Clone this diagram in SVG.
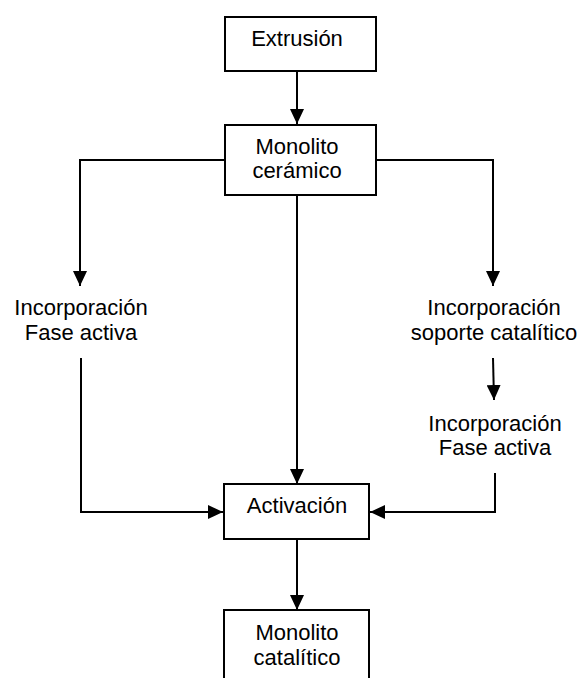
<svg xmlns="http://www.w3.org/2000/svg" width="581" height="678" viewBox="0 0 581 678">
<style>
.box{fill:#fff;stroke:#000;stroke-width:2}
.ln{fill:none;stroke:#000;stroke-width:2}
text{font-family:"Liberation Sans",Arial,sans-serif;font-size:22px;fill:#000;text-anchor:middle}
</style>
<defs>
<marker id="ah" markerWidth="15" markerHeight="14" refX="15" refY="7" orient="auto" markerUnits="userSpaceOnUse">
<path d="M0,0 L15,7 L0,14 Z" fill="#000"/>
</marker>
</defs>
<rect width="581" height="678" fill="#fff"/>
<g id="connectors">
<path class="ln" d="M297,71 L297,124" marker-end="url(#ah)"/>
<path class="ln" d="M225,160 L80,160 L80,286" marker-end="url(#ah)"/>
<path class="ln" d="M376,160 L493,160 L493,286" marker-end="url(#ah)"/>
<path class="ln" d="M297,195 L297,484" marker-end="url(#ah)"/>
<path class="ln" d="M493,358 L494,400" marker-end="url(#ah)"/>
<path class="ln" d="M81,358 L81,512 L223,512" marker-end="url(#ah)"/>
<path class="ln" d="M495,473 L495,512 L370,512" marker-end="url(#ah)"/>
<path class="ln" d="M297,539 L297,610" marker-end="url(#ah)"/>
</g>
<g id="extrusion">
<rect class="box" x="225" y="17" width="151" height="54"/>
<text x="297" y="46">Extrusión</text>
</g>
<g id="monolito-ceramico">
<rect class="box" x="225" y="125" width="151" height="70"/>
<text x="297" y="154">Monolito</text>
<text x="297" y="178">cerámico</text>
</g>
<g id="incorporacion-fase-activa-left">
<text x="81" y="315">Incorporación</text>
<text x="81" y="340">Fase activa</text>
</g>
<g id="incorporacion-soporte">
<text x="494" y="315">Incorporación</text>
<text x="494" y="340">soporte catalítico</text>
</g>
<g id="incorporacion-fase-activa-right">
<text x="495" y="431">Incorporación</text>
<text x="495" y="455">Fase activa</text>
</g>
<g id="activacion">
<rect class="box" x="224" y="484" width="145" height="55"/>
<text x="297" y="513">Activación</text>
</g>
<g id="monolito-catalitico">
<rect class="box" x="224" y="610" width="145" height="80"/>
<text x="297" y="640">Monolito</text>
<text x="297" y="665">catalítico</text>
</g>
</svg>
